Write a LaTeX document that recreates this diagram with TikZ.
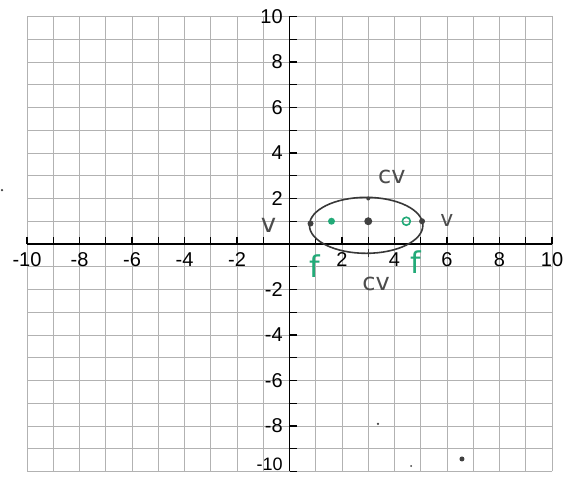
\documentclass[tikz,border=0pt]{standalone}
\usepackage{fontspec}
\setmainfont{Liberation Sans}
\newfontfamily\hand{DejaVu Sans}
\definecolor{fgreen}{RGB}{34,170,120}
\begin{document}
\begin{tikzpicture}[x=26.25pt,y=22.75pt,
  gridline/.style={draw=black!30, line width=0.8pt},
  axisline/.style={draw=black, line width=1.6pt},
  tickline/.style={draw=black, line width=1.2pt},
  ticklab/.style={font=\fontsize{20}{20}\selectfont, inner sep=0pt},
  pencil/.style={draw=black!78, line width=1.6pt},
  handlab/.style={font=\hand\fontsize{24}{24}\selectfont, text=black!70, inner sep=0pt},
  greenlab/.style={font=\hand\fontsize{30}{30}\selectfont, text=fgreen, inner sep=0pt},
  dotmark/.style={circle, fill=black!75, inner sep=0pt, minimum size=#1},
  gdot/.style={circle, fill=fgreen, inner sep=0pt, minimum size=7pt}]
\useasboundingbox (-11.029,-10.242) rectangle (10.457,10.725);
\fill[white] (-11.029,-10.242) rectangle (10.457,10.725);
% grid
\foreach \i in {-10,...,10} {
  \draw[gridline] (\i,-10) -- (\i,10);
  \draw[gridline] (-10,\i) -- (10,\i);
}
% axes
\coordinate (xl) at (-10,0); \coordinate (xr) at (10,0);
\coordinate (yb) at (0,-10); \coordinate (yt) at (0,10);
\draw[axisline] (xl) -- (xr);
\draw[axisline] (yb) -- (yt);
\foreach \i in {-10,...,10} {
  \draw[tickline] (\i,0) -- (\i,0.3);
  \draw[tickline] (0,\i) -- (0.3,\i);
}
\foreach \i in {-10,-8,-6,-4,-2,2,4,6,8,10} {
  \node[ticklab, anchor=north] (xlab\i) at (\i,-0.38) {\i};
}
\foreach \i in {-8,-6,-4,-2,2,4,6,8,10} {
  \node[ticklab, anchor=east] (ylab\i) at (-0.25,\i) {\i};
}
\node[ticklab, font=\fontsize{18}{18}\selectfont, anchor=south east] (ylab-10) at (-0.25,-9.98) {-10};
% ellipse (hand drawn)
\draw[pencil] (2.92,0.82) ellipse [x radius=2.16, y radius=1.23];
% marks
\node[dotmark=8pt] (ctr) at (3,1) {};
\node[dotmark=6pt] (vl) at (0.8,0.9) {};
\node[dotmark=6pt] (vr) at (5.05,1.0) {};
\node[dotmark=4pt] (cvt) at (3,2.0) {};
\draw[pencil, line width=1.2pt] (3,-0.2) -- (3,-0.55);
\node[gdot] (f1) at (1.6,1.0) {};
\node[circle, draw=fgreen, line width=1.6pt, inner sep=0pt, minimum size=8pt] (f2) at (4.45,1.0) {};
% handwritten labels
\node[handlab, font=\hand\fontsize{26}{26}\selectfont] (lv) at (-0.8,0.8) {v};
\node[handlab, font=\hand\fontsize{22}{22}\selectfont] (rv) at (6.0,1.05) {v};
\node[handlab] (lcvt) at (3.9,2.95) {cv};
\node[handlab] (lcvb) at (3.3,-1.75) {cv};
\node[greenlab] (lf1) at (0.97,-0.95) {f};
\node[greenlab] (lf2) at (4.8,-0.8) {f};
% stray marks
\node[dotmark=2.5pt] (s1) at (3.37,-7.91) {};
\node[dotmark=2pt] (s2) at (4.63,-9.76) {};
\node[dotmark=5pt] (s3) at (6.57,-9.45) {};
\node[dotmark=2.5pt] (s4) at (-10.95,2.37) {};
\end{tikzpicture}
\end{document}
